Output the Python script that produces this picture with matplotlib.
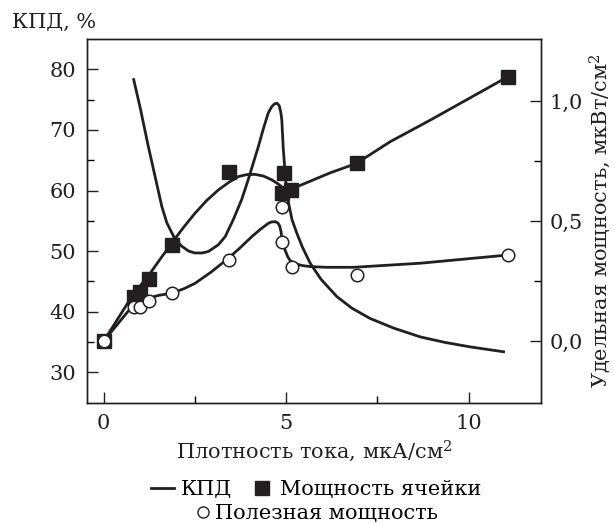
import matplotlib
matplotlib.use('Agg')
import matplotlib.pyplot as plt
from matplotlib.lines import Line2D
from matplotlib.ticker import FixedLocator

plt.rcParams['font.family'] = ['DejaVu Serif']
plt.rcParams['mathtext.fontset'] = 'dejavuserif'
plt.rcParams['font.size'] = 15

INK = '#231f20'

# КПД, % (left axis)
kpd_x = [0.82, 1.0, 1.22, 1.59, 1.73, 1.96, 2.14, 2.33, 2.50, 2.70, 2.87, 3.14,
         3.33, 3.55, 3.78, 3.95, 4.24, 4.38, 4.51, 4.60, 4.68, 4.75, 4.81, 4.85,
         4.88, 4.92, 4.95, 5.02, 5.16, 5.29, 5.45, 5.66, 5.95, 6.39, 6.80, 7.30,
         7.95, 8.68, 9.35, 10.05, 10.96]
kpd_y = [78.3, 73.6, 67.3, 57.4, 54.65, 51.9, 50.8, 50.0, 49.7, 49.7, 49.95, 51.05,
         52.4, 55.2, 58.5, 61.6, 67.3, 70.3, 72.8, 73.8, 74.3, 74.4, 74.0, 73.0,
         71.7, 67.0, 64.6, 59.3, 55.2, 53.0, 50.6, 48.0, 45.4, 42.5, 40.6, 38.9,
         37.3, 35.85, 34.95, 34.2, 33.4]

# measured points, мкВт/см2 (right axis)
pt_x = [0.0, 0.82, 1.0, 1.24, 1.86, 3.42, 4.88, 4.95, 5.13, 6.93, 11.07]
cell_p = [0.0, 0.185, 0.205, 0.258, 0.40, 0.705, 0.615, 0.70, 0.629, 0.74, 1.10]
use_x = [0.0, 0.82, 1.0, 1.24, 1.86, 3.42, 4.88, 4.88, 5.16, 6.93, 11.07]
use_p = [0.0, 0.143, 0.143, 0.165, 0.199, 0.3375, 0.56, 0.414, 0.307, 0.275, 0.358]

# fitted curves through the markers
cell_cx = [0.0, 0.77, 1.27, 1.55, 1.86, 2.18, 2.50, 2.82, 3.14, 3.42, 3.69, 3.92,
           4.15, 4.38, 4.61, 4.80, 4.97, 5.13, 6.2, 6.93, 7.85, 8.95, 11.07]
cell_cy = [0.0, 0.185, 0.282, 0.342, 0.407, 0.472, 0.532, 0.585, 0.629, 0.660,
           0.685, 0.693, 0.694, 0.687, 0.671, 0.652, 0.629, 0.632, 0.70, 0.74,
           0.83, 0.92, 1.10]
use_cx = [0.0, 0.77, 1.22, 1.50, 1.86, 2.20, 2.50, 2.95, 3.42, 3.75, 4.06, 4.30,
          4.51, 4.60, 4.70, 4.77, 4.82, 4.86, 4.90, 4.97, 5.04, 5.11, 5.25, 5.45,
          5.66, 6.10, 6.85, 8.68, 11.07]
use_cy = [0.0, 0.143, 0.178, 0.190, 0.199, 0.218, 0.24, 0.288, 0.345, 0.39, 0.435,
          0.466, 0.49, 0.496, 0.497, 0.492, 0.48, 0.455, 0.41, 0.379, 0.352, 0.335,
          0.322, 0.314, 0.31, 0.307, 0.307, 0.324, 0.358]

left_ticks = [30, 40, 50, 60, 70, 80]
left_minor = [35, 45, 55, 65, 75]
right_ticks = [0.0, 0.5, 1.0]
right_labels = ['0,0', '0,5', '1,0']
right_minor = [0.25, 0.75]
x_ticks = [0, 5, 10]
x_minor = [2.5, 7.5]

fig = plt.figure(figsize=(6.14, 5.24), dpi=100)
ax = fig.add_axes([0.1417, 0.2315, 0.7402, 0.6941])
ax2 = ax.twinx()

ax.plot(kpd_x, kpd_y, color=INK, lw=2.0, solid_joinstyle='round')
ax2.plot(cell_cx, cell_cy, color=INK, lw=2.0, solid_joinstyle='round')
ax2.plot(use_cx, use_cy, color=INK, lw=2.0, solid_joinstyle='round')
ax2.plot(pt_x, cell_p, ls='none', marker='s', ms=10.5, mfc=INK, mec=INK, zorder=4)
ax2.plot(use_x, use_p, ls='none', marker='o', ms=9, mfc='white', mec=INK,
         mew=1.1, zorder=5)

ax.set_xlim(-0.46, 12.0)
ax.set_ylim(25, 85)
ax2.set_ylim(-0.257, 1.258)

ax.set_xticks(x_ticks)
ax.xaxis.set_minor_locator(FixedLocator(x_minor))
ax.set_yticks(left_ticks)
ax.yaxis.set_minor_locator(FixedLocator(left_minor))
ax2.set_yticks(right_ticks)
ax2.set_yticklabels(right_labels)
ax2.yaxis.set_minor_locator(FixedLocator(right_minor))

ax.tick_params(axis='both', which='major', direction='in', length=8, width=1,
               pad=8, labelsize=15, colors=INK)
ax.tick_params(axis='both', which='minor', direction='in', length=5, width=1)
ax2.tick_params(axis='y', which='major', direction='in', length=8, width=1,
                pad=6, labelsize=15, colors=INK)
ax2.tick_params(axis='y', which='minor', direction='in', length=5, width=1)
for a in (ax, ax2):
    for s in a.spines.values():
        s.set_linewidth(1.0)
        s.set_color(INK)

ax.set_xlabel('Плотность тока, мкА/см$^2$', fontsize=15, labelpad=4, color=INK)
ax2.set_ylabel('Удельная мощность, мкВт/см$^2$', fontsize=15, labelpad=3,
               color=INK)
fig.text(0.0195, 0.958, 'КПД, %', fontsize=15, ha='left', va='center', color=INK)

h_line = Line2D([], [], color=INK, lw=2.0)
h_sq = Line2D([], [], ls='none', marker='s', ms=10, mfc=INK, mec=INK)
h_circ = Line2D([], [], ls='none', marker='o', ms=8, mfc='white', mec=INK, mew=1)
fig.legend([h_line, h_sq], ['КПД', 'Мощность ячейки'], ncol=2, loc='center',
           bbox_to_anchor=(0.515, 0.065), frameon=False, handlelength=1.1,
           handletextpad=0.3, columnspacing=0.9, fontsize=15, borderpad=0,
           borderaxespad=0)
fig.legend([h_circ], ['Полезная мощность'], loc='center',
           bbox_to_anchor=(0.515, 0.02), frameon=False, handlelength=0.8,
           handletextpad=0.2, fontsize=15, borderpad=0, borderaxespad=0)

fig.savefig('out.png', dpi=100)
